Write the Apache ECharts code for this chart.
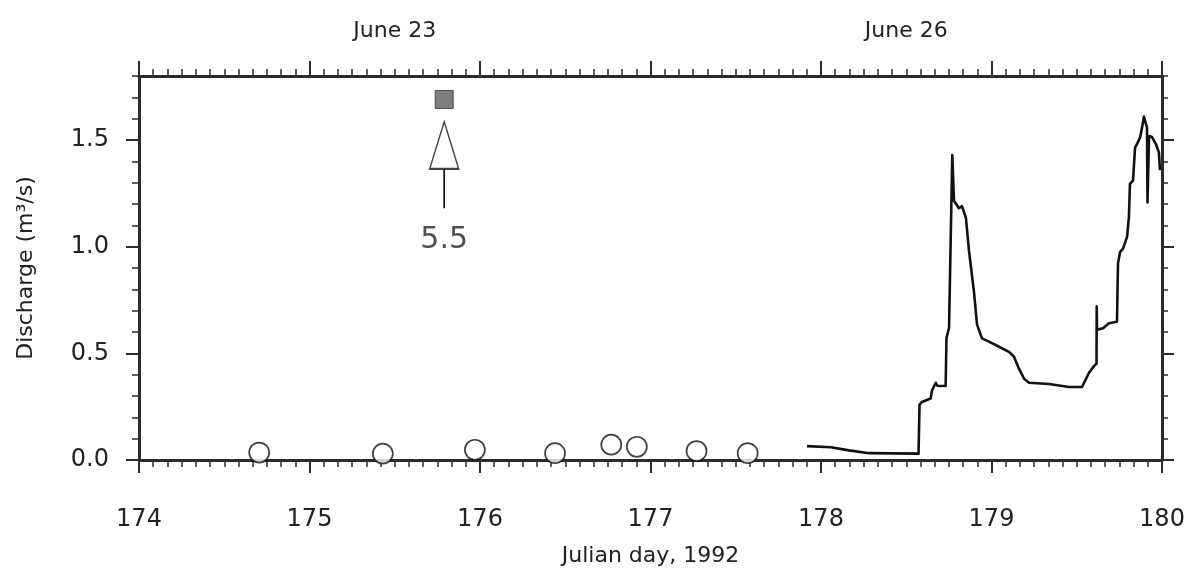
<!DOCTYPE html>
<html>
<head>
<meta charset="utf-8">
<script src="https://cdn.jsdelivr.net/npm/echarts@6/dist/echarts.min.js"></script>
<style>
  html, body { margin: 0; padding: 0; background: #ffffff; }
  #chart { width: 1190px; height: 572px; }
</style>
</head>
<body>
<div id="chart"></div>
<script>
// ---- data ----
// continuous discharge record (Julian day, m3/s)
const lineDay = [177.918, 178.059, 178.164, 178.282, 178.572, 178.578, 178.592, 178.643, 178.651, 178.673,
  178.682, 178.731, 178.736, 178.751, 178.770, 178.780, 178.809, 178.827, 178.850, 178.868,
  178.897, 178.915, 178.944, 178.985, 179.044, 179.103, 179.132, 179.161, 179.191, 179.220,
  179.337, 179.455, 179.531, 179.543, 179.572, 179.601, 179.616, 179.617, 179.619, 179.654,
  179.689, 179.736, 179.742, 179.754, 179.771, 179.795, 179.806, 179.812, 179.830, 179.842,
  179.853, 179.871, 179.883, 179.894, 179.906, 179.912, 179.915, 179.924, 179.941, 179.965,
  179.982, 179.988];
const lineQ = [0.065, 0.060, 0.045, 0.032, 0.030, 0.260, 0.272, 0.288, 0.326, 0.362,
  0.348, 0.347, 0.572, 0.620, 1.430, 1.215, 1.180, 1.190, 1.135, 0.980,
  0.790, 0.636, 0.570, 0.555, 0.531, 0.507, 0.484, 0.428, 0.381, 0.362,
  0.356, 0.342, 0.342, 0.362, 0.409, 0.440, 0.452, 0.720, 0.610, 0.618,
  0.641, 0.648, 0.921, 0.975, 0.990, 1.046, 1.140, 1.294, 1.310, 1.465,
  1.480, 1.511, 1.558, 1.610, 1.575, 1.558, 1.207, 1.519, 1.514, 1.480,
  1.441, 1.358];
// spot measurements (open circles)
const spotDay = [174.705, 175.43, 175.97, 176.44, 176.77, 176.92, 177.27, 177.57];
const spotQ   = [0.035, 0.03, 0.048, 0.032, 0.072, 0.062, 0.042, 0.032];
// off-scale measurement (filled square + arrow)
const offDay = 175.79;
const offMarkerQ = 1.69;
const offValue = 5.5;
const arrowTipQ = 1.585;
const arrowBaseQ = 1.365;
const arrowTailQ = 1.18;
const offLabelQ = 1.03;
// axes
const xMin = 174, xMax = 180;
const yMin = 0, yMax = 1.8;
const yLabelValues = [0, 0.5, 1.0, 1.5];
const topLabelDays = [175.5, 178.5];
const topLabelTexts = ['June 23', 'June 26'];

// ---- chart ----
const FONT = 'DejaVu Sans';
const INK = '#222222';
const AXIS = '#2b2b2b';

const chart = echarts.init(document.getElementById('chart'), null, { renderer: 'canvas' });

function isYLabel(v) {
  return yLabelValues.some(t => Math.abs(t - v) < 1e-6);
}

const option = {
  animation: false,
  backgroundColor: '#ffffff',
  grid: { left: 139, right: 28, top: 76, bottom: 108, containLabel: false },
  xAxis: [
    {
      type: 'value', position: 'bottom', min: xMin, max: xMax, interval: 1,
      name: 'Julian day, 1992', nameLocation: 'middle', nameGap: 85,
      nameTextStyle: { fontFamily: FONT, fontSize: 22, color: INK },
      axisLine: { show: true, onZero: false, lineStyle: { color: AXIS, width: 3 } },
      axisTick: { show: true, inside: false, length: 13, lineStyle: { color: AXIS, width: 2 } },
      minorTick: { show: true, splitNumber: 12, length: 7, lineStyle: { color: AXIS, width: 1.5 } },
      axisLabel: { margin: 48, fontFamily: FONT, fontSize: 24, color: INK },
      splitLine: { show: false }, minorSplitLine: { show: false }
    },
    {
      type: 'value', position: 'top', min: xMin, max: xMax, interval: 1,
      axisLine: { show: true, onZero: false, lineStyle: { color: AXIS, width: 3 } },
      axisTick: { show: true, inside: false, length: 15, lineStyle: { color: AXIS, width: 2 } },
      minorTick: { show: true, splitNumber: 12, length: 7, lineStyle: { color: AXIS, width: 1.5 } },
      axisLabel: { show: false },
      splitLine: { show: false }, minorSplitLine: { show: false }
    },
    {
      type: 'value', position: 'top', min: xMin, max: xMax, interval: 0.5,
      axisLine: { show: false }, axisTick: { show: false },
      axisLabel: {
        show: true, margin: 34, fontFamily: FONT, fontSize: 22, color: INK,
        showMinLabel: false, showMaxLabel: false,
        formatter: function (v) {
          const i = topLabelDays.findIndex(d => Math.abs(d - v) < 1e-6);
          return i >= 0 ? topLabelTexts[i] : '';
        }
      },
      splitLine: { show: false }
    }
  ],
  yAxis: [
    {
      type: 'value', position: 'left', min: yMin, max: yMax, interval: 0.5,
      name: 'Discharge (m³/s)', nameLocation: 'middle', nameGap: 102, nameRotate: 90,
      nameTextStyle: { fontFamily: FONT, fontSize: 22, color: INK },
      axisLine: { show: true, onZero: false, lineStyle: { color: AXIS, width: 3 } },
      axisTick: { show: true, inside: false, length: 13, customValues: yLabelValues, lineStyle: { color: AXIS, width: 2 } },
      axisLabel: {
        margin: 30, fontFamily: FONT, fontSize: 24, color: INK, customValues: yLabelValues,
        formatter: function (v) { return isYLabel(v) ? v.toFixed(1) : ''; }
      },
      splitLine: { show: false }
    },
    {
      type: 'value', position: 'left', min: yMin, max: yMax, interval: 0.1,
      axisLine: { show: false },
      axisTick: { show: true, inside: false, length: 7, lineStyle: { color: AXIS, width: 1.5 } },
      axisLabel: { show: false }, splitLine: { show: false }
    },
    {
      type: 'value', position: 'right', min: yMin, max: yMax, interval: 0.5,
      axisLine: { show: true, onZero: false, lineStyle: { color: AXIS, width: 3 } },
      axisTick: { show: true, inside: false, length: 12, customValues: yLabelValues, lineStyle: { color: AXIS, width: 2 } },
      axisLabel: { show: false }, splitLine: { show: false }
    },
    {
      type: 'value', position: 'right', min: yMin, max: yMax, interval: 0.1,
      axisLine: { show: false },
      axisTick: { show: true, inside: false, length: 6, lineStyle: { color: AXIS, width: 1.5 } },
      axisLabel: { show: false }, splitLine: { show: false }
    }
  ],
  series: [
    {
      name: 'Recorded discharge', type: 'line', xAxisIndex: 0, yAxisIndex: 0,
      data: lineDay.map((d, i) => [d, lineQ[i]]),
      showSymbol: false, symbol: 'none', smooth: false,
      lineStyle: { color: '#111111', width: 2.6, join: 'round' }, z: 3
    },
    {
      name: 'Measured discharge', type: 'scatter', xAxisIndex: 0, yAxisIndex: 0,
      data: spotDay.map((d, i) => [d, spotQ[i]]),
      symbol: 'circle', symbolSize: 20,
      itemStyle: { color: '#ffffff', borderColor: '#111111', borderWidth: 1.7 }, z: 4
    },
    {
      name: 'Off-scale measurement', type: 'scatter', xAxisIndex: 0, yAxisIndex: 0,
      data: [[offDay, offMarkerQ]],
      symbol: 'rect', symbolSize: 18,
      itemStyle: { color: '#5c5c5c', borderColor: '#333333', borderWidth: 1 }, z: 4
    },
    {
      name: 'Arrow shaft', type: 'line', xAxisIndex: 0, yAxisIndex: 0,
      data: [[offDay, arrowTailQ], [offDay, arrowBaseQ]],
      showSymbol: false, symbol: 'none',
      lineStyle: { color: '#111111', width: 1.7 }, z: 4
    },
    {
      name: 'Arrow head', type: 'scatter', xAxisIndex: 0, yAxisIndex: 0,
      data: [[offDay, (arrowTipQ + arrowBaseQ) / 2]],
      symbol: 'triangle', symbolSize: [29, 47],
      itemStyle: { color: '#ffffff', borderColor: '#111111', borderWidth: 1.7 }, z: 4
    },
    {
      name: 'Off-scale value', type: 'scatter', xAxisIndex: 0, yAxisIndex: 0,
      data: [[offDay, offLabelQ]],
      symbolSize: 0,
      label: {
        show: true, position: 'inside', formatter: String(offValue),
        fontFamily: FONT, fontSize: 30, color: INK
      },
      z: 4
    }
  ]
};

chart.setOption(option);
</script>
</body>
</html>
